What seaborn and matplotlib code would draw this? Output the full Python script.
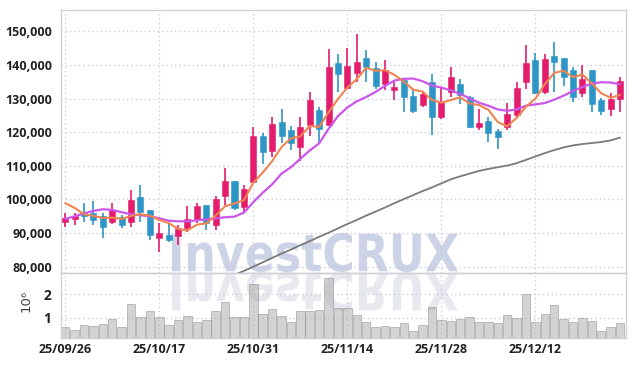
import numpy as np
import pandas as pd
import matplotlib
matplotlib.use("Agg")
import matplotlib.pyplot as plt
import seaborn as sns
from matplotlib.textpath import TextPath
from matplotlib.patches import PathPatch
from matplotlib.font_manager import FontProperties
from matplotlib.transforms import Affine2D, IdentityTransform

# ---------------- data ----------------
opens = [93200, 94200, 95900, 96100, 95100, 93400, 94900, 93400, 100800, 96900,
         88600, 89400, 89100, 91400, 93900, 98400, 92400, 101100, 105500, 97900,
         105300, 118900, 114500, 123100, 120700, 115500, 122200, 126600, 122200, 140700,
         133300, 137700, 142000, 139000, 134300, 132600, 135600, 130800, 128100, 134900,
         124500, 132100, 134400, 130600, 121700, 123500, 120500, 121500, 125100, 135100,
         141500, 132100, 142700, 142000, 138500, 131800, 138500, 129600, 126900, 129800]
highs = [96000, 96100, 98900, 99600, 95900, 99000, 95400, 102800, 104300, 97000,
         92900, 93400, 92400, 98200, 98900, 98500, 101000, 109300, 105600, 104300,
         121500, 119700, 124500, 126800, 122000, 124600, 131900, 127600, 144700, 143200,
         145000, 149200, 144500, 140800, 141500, 135600, 135700, 132600, 132100, 137300,
         133100, 139300, 135800, 130700, 126800, 124600, 120900, 128600, 135100, 146000,
         143700, 143300, 146800, 142100, 139300, 140000, 138600, 130100, 131800, 136400]
lows = [91900, 92400, 93400, 92400, 88500, 92700, 91400, 91700, 93400, 87900,
        84500, 87400, 86400, 90400, 92900, 90900, 90900, 98400, 96900, 96400,
        104900, 110500, 112600, 116700, 114700, 111500, 118900, 116900, 122000, 131900,
        133000, 135100, 135100, 132800, 132600, 129600, 126100, 125700, 127600, 119200,
        123900, 130600, 128400, 121400, 120700, 117200, 115000, 120700, 124500, 132800,
        131500, 131400, 132100, 133800, 129100, 130600, 126100, 125100, 124800, 126100]
closes = [94400, 95200, 95100, 93900, 91900, 96900, 92400, 99900, 96400, 89400,
          90100, 87900, 91400, 94100, 98100, 93100, 100100, 105500, 97600, 103000,
          118900, 114200, 122500, 118900, 116900, 121500, 129600, 121100, 139500, 137300,
          139700, 141000, 139300, 133800, 138500, 133400, 130600, 126300, 131300, 124600,
          129100, 136400, 131100, 121700, 122700, 119900, 118500, 125400, 133300, 140700,
          131600, 141700, 141000, 136500, 130600, 135800, 128400, 126400, 129900, 135300]
volumes_m = [0.59, 0.46, 0.69, 0.63, 0.73, 0.93, 0.62, 1.57, 1.02, 1.29,
             1.02, 0.69, 0.90, 1.07, 0.80, 0.90, 1.29, 1.67, 1.02, 1.02,
             2.44, 1.16, 1.36, 1.07, 0.80, 1.27, 1.27, 1.33, 2.70, 1.40,
             1.40, 1.10, 0.80, 0.59, 0.63, 0.59, 0.76, 0.43, 0.69, 1.44,
             0.90, 0.86, 0.94, 1.02, 0.80, 0.80, 0.76, 1.10, 0.97, 2.00,
             0.80, 1.16, 1.53, 0.93, 0.80, 0.97, 0.86, 0.43, 0.59, 0.76]
ma_short = [98900, 97500, 95600, 95100, 94500, 94600, 94200, 95100, 95600, 95200,
            93900, 93000, 91200, 90800, 92500, 92900, 95200, 98000, 98800, 99800,
            105000, 108000, 111400, 115600, 118200, 118800, 121900, 121600, 125900, 129900,
            133300, 135800, 139200, 138300, 138500, 137100, 135100, 132700, 132100, 129600,
            128800, 129600, 130400, 128600, 128100, 126700, 123000, 121800, 124300, 127600,
            130000, 134300, 137700, 138300, 136400, 137200, 134500, 131600, 130300, 131100]
ma_mid = [94200, 95000, 95900, 96600, 97100, 96900, 96200, 95600, 95300, 95000,
          94400, 93700, 93500, 93500, 93800, 94100, 94400, 94700, 94900, 96100,
          99200, 102000, 104500, 107700, 109600, 112100, 114600, 116700, 121000, 124800,
          127400, 129200, 130500, 132000, 133800, 135400, 135900, 136000, 135200, 133900,
          133300, 132500, 131400, 130100, 128800, 127900, 126800, 126400, 126800, 127900,
          128300, 128700, 129700, 130900, 132300, 133500, 134500, 134900, 134800, 134300]
ma_long = [None] * 18 + [
          77500, 78750,
          80000, 81300, 82600, 83900, 85100, 86400, 87600, 88900, 90100, 91400,
          92700, 93900, 95200, 96400, 97600, 98900, 100100, 101300, 102500, 103600,
          104800, 106000, 106900, 107700, 108500, 109100, 109600, 110100, 110800, 111800,
          112800, 113800, 114700, 115500, 116100, 116500, 116800, 117100, 117600, 118400]
date_ticks = [0, 10, 20, 30, 40, 50]
date_labels = ["25/09/26", "25/10/17", "25/10/31", "25/11/14", "25/11/28", "25/12/12"]
price_ticks = [80000, 90000, 100000, 110000, 120000, 130000, 140000, 150000]
price_labels = ["80,000", "90,000", "100,000", "110,000", "120,000", "130,000", "140,000", "150,000"]
vol_ticks = [1, 2]
vol_labels = ["1", "2"]

idx = np.arange(len(closes))
df = pd.DataFrame({"i": idx, "open": opens, "high": highs, "low": lows, "close": closes,
                   "vol": volumes_m, "ma_s": ma_short, "ma_m": ma_mid,
                   "ma_l": pd.to_numeric(pd.Series(ma_long), errors="coerce")})

# ---------------- style ----------------
sns.set_theme(style="white")
plt.rcParams["font.family"] = ["Open Sans", "DejaVu Sans"]
plt.rcParams["font.weight"] = "bold"

UP = "#e31c6b"
DOWN = "#2e95c7"
GRID = "#c4c7da"
SPINE = "#cfd0d8"
TXT = "#222222"

W, H = 634, 366
fig = plt.figure(figsize=(W / 100, H / 100), dpi=100, facecolor="white")
L, R, T, MID, B = 61, 625.7, 9.5, 272.5, 337.7
ax = fig.add_axes([L / W, 1 - MID / H, (R - L) / W, (MID - T) / H])
axv = fig.add_axes([L / W, 1 - B / H, (R - L) / W, (B - MID) / H], sharex=ax)
for a in (ax, axv):
    a.set_facecolor("none")
    for s in a.spines.values():
        s.set_color(SPINE)
        s.set_linewidth(1.0)
    a.grid(True, linestyle=(0, (1, 2.5)), color=GRID, linewidth=0.9)
    a.set_axisbelow(True)

# ---------------- watermark ----------------
fp = FontProperties(family="DejaVu Sans", weight="bold")
tp = TextPath((0, 0), "InvestCRUX", size=100, prop=fp)
ext = tp.get_extents()
x0, x1, ybase, ytop = 172, 458, H - 272, H - 233
sx = (x1 - x0) / ext.width
sy = (ytop - ybase) / ext.height
tr1 = Affine2D().translate(-ext.x0, -ext.y0).scale(sx, sy).translate(x0, ybase)
tr2 = Affine2D().translate(-ext.x0, -ext.y0).scale(sx, -sy).translate(x0, ybase)
fig.add_artist(PathPatch(tr1.transform_path(tp), facecolor="#cdd3e7", edgecolor="none",
                         transform=IdentityTransform(), zorder=-5))
fig.add_artist(PathPatch(tr2.transform_path(tp), facecolor="#e8e8ef", edgecolor="none",
                         transform=IdentityTransform(), zorder=-5))

# ---------------- candles ----------------
up = df["close"] >= df["open"]
colors = np.where(up, UP, DOWN)
ax.vlines(df["i"], df["low"], df["high"], colors=colors, linewidth=1.2, zorder=3)
body_lo = np.minimum(df["open"], df["close"])
body_h = np.abs(df["close"] - df["open"]).clip(lower=250)
ax.bar(df["i"], body_h, bottom=body_lo, width=0.64, color=colors,
       edgecolor=colors, linewidth=0.4, zorder=4)

# ---------------- moving averages ----------------
sns.lineplot(data=df, x="i", y="ma_l", ax=ax, color="#7a7a7a", linewidth=1.3, zorder=5)
sns.lineplot(data=df, x="i", y="ma_m", ax=ax, color="#cc55ea", linewidth=1.6, zorder=6)
sns.lineplot(data=df, x="i", y="ma_s", ax=ax, color="#ee8450", linewidth=1.5, zorder=7)

ax.set_ylim(78270, 156540)
ax.set_xlim(-0.45, 59.6)
ax.set_yticks(price_ticks)
ax.set_yticklabels(price_labels)
ax.set_xticks(date_ticks)
ax.tick_params(axis="x", labelbottom=False, length=0)
ax.tick_params(axis="y", length=0, pad=6, labelsize=9, labelcolor=TXT)
ax.set_xlabel("")
ax.set_ylabel("")

# ---------------- volume ----------------
sns.barplot(data=df, x="i", y="vol", ax=axv, native_scale=True, width=0.9,
            color="#a9a9a9", alpha=0.5, edgecolor="#8a8a8a", linewidth=0.7,
            errorbar=None, zorder=2)
axv.set_ylim(0.145, 2.93)
axv.set_xlim(-0.45, 59.6)
axv.set_yticks(vol_ticks)
axv.set_yticklabels(vol_labels)
axv.set_xticks(date_ticks)
axv.set_xticklabels(date_labels)
axv.tick_params(axis="y", length=0, pad=7, labelsize=10, labelcolor=TXT)
axv.tick_params(axis="x", length=0, pad=4, labelsize=9, labelcolor=TXT)
axv.set_xlabel("")
axv.set_ylabel("10⁶", fontsize=9.5, color="#444444", fontweight="normal",
               family=["DejaVu Sans"])
axv.yaxis.set_label_coords(-0.05, 0.56)

fig.savefig("out.png", dpi=100, facecolor="white")
